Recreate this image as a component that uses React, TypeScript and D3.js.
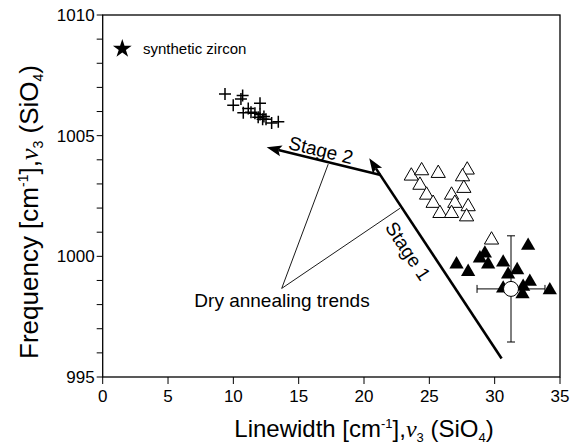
import * as d3 from "d3";

// synthetic zircon (crosses)
const crossPoints: [number, number][] = [
  [9.36, 1006.73], [9.99, 1006.26], [10.71, 1006.66], [10.58, 1006.52],
  [12.04, 1006.34], [11.14, 1006.13], [10.76, 1005.95], [11.35, 1005.97],
  [11.65, 1005.93], [12.04, 1005.88], [12.34, 1005.79], [12.5, 1005.68],
  [12.24, 1005.68], [12.93, 1005.53], [13.44, 1005.58], [11.9, 1005.76],
];

const openTriPoints: [number, number][] = [
  [23.62, 1003.33], [24.41, 1003.55], [25.68, 1003.44], [27.9, 1003.58],
  [27.54, 1003.3], [24.28, 1002.95], [27.64, 1002.82], [24.79, 1002.54],
  [26.7, 1002.54], [25.29, 1002.2], [26.95, 1002.2], [27.97, 1002.06],
  [25.81, 1001.78], [26.7, 1001.78], [27.85, 1001.64], [29.76, 1000.68],
];

const filledTriPoints: [number, number][] = [
  [30.65, 998.67], [32.56, 1000.44], [27.08, 999.67], [27.97, 999.36],
  [28.87, 999.92], [29.25, 1000.12], [29.5, 999.67], [30.65, 999.75],
  [31.03, 999.25], [31.72, 999.43], [32.69, 998.95], [32.18, 998.74],
  [32.13, 998.43], [34.22, 998.6],
];

const meanPoint: [number, number] = [31.25, 998.65];
const meanErrX = 2.6;
const meanErrY = 2.2;

const starPoint: [number, number] = [1.5, 1008.6];

const stage1: [number, number][] = [[30.53, 995.77], [20.4, 1004.06]];
const stage2: [number, number][] = [[21.27, 1003.37], [12.55, 1004.52]];
const dryApex: [number, number] = [13.7, 998.67];
const dryEnds: [number, number][] = [[17.26, 1003.82], [22.75, 1001.99]];

const xTicks = [0, 5, 10, 15, 20, 25, 30, 35];
const yTicks = [995, 1000, 1005, 1010];
const yMinor = d3.range(995, 1011, 1);

const W = 570;
const H = 446;

const x = d3.scaleLinear().domain([0, 35]).range([102.7, 560]);
const y = d3.scaleLinear().domain([995, 1010]).range([377, 15]);

const font = "Arial, 'Liberation Sans', Helvetica, sans-serif";

function arrow(seg: [number, number][]) {
  const [x0, y0] = [x(seg[0][0]), y(seg[0][1])];
  const [x1, y1] = [x(seg[1][0]), y(seg[1][1])];
  const len = Math.hypot(x1 - x0, y1 - y0);
  const ux = (x1 - x0) / len;
  const uy = (y1 - y0) / len;
  const L = 15;
  const hw = 5.5;
  const bx = x1 - ux * L;
  const by = y1 - uy * L;
  const head = `M${x1},${y1}L${bx - uy * hw},${by + ux * hw}L${bx + ux * 3},${by + uy * 3}L${bx + uy * hw},${by - ux * hw}Z`;
  return { line: `M${x0},${y0}L${bx + ux * 3},${by + uy * 3}`, head };
}

export default function App() {
  const tri = d3.symbol().type(d3.symbolTriangle).size(88)()!;
  const star = d3.symbol().type(d3.symbolStar).size(110)()!;
  const a1 = arrow(stage1);
  const a2 = arrow(stage2);
  const ang1 = (Math.atan2(y(stage1[0][1]) - y(stage1[1][1]), x(stage1[0][0]) - x(stage1[1][0])) * 180) / Math.PI;
  const ang2 = (Math.atan2(y(stage2[0][1]) - y(stage2[1][1]), x(stage2[0][0]) - x(stage2[1][0])) * 180) / Math.PI;

  return (
    <svg
      width={W}
      height={H}
      viewBox={`0 0 ${W} ${H}`}
      style={{ position: "absolute", left: 0, top: 0, background: "#fff" }}
      fontFamily={font}
    >
      {/* frame */}
      <rect x={x(0)} y={y(1010)} width={x(35) - x(0)} height={y(995) - y(1010)} fill="none" stroke="#000" strokeWidth={1.3} />

      {/* y ticks */}
      {yMinor.map((t) => (
        <line key={"ym" + t} x1={x(0) - 6} x2={x(0)} y1={y(t)} y2={y(t)} stroke="#000" strokeWidth={1} />
      ))}
      {yTicks.map((t) => (
        <text key={"yt" + t} x={x(0) - 8} y={y(t)} dy="0.36em" textAnchor="end" fontSize={17}>
          {t}
        </text>
      ))}
      {/* x ticks */}
      {xTicks.map((t) => (
        <g key={"xt" + t}>
          <line x1={x(t)} x2={x(t)} y1={y(995)} y2={y(995) + 7} stroke="#000" strokeWidth={1} />
          <text x={x(t)} y={402} textAnchor="middle" fontSize={17}>
            {t}
          </text>
        </g>
      ))}

      {/* axis titles */}
      <text x={364} y={437} textAnchor="middle" fontSize={24}>
        Linewidth [cm<tspan dy={-9} fontSize={13}>-1</tspan>
        <tspan dy={9}>],</tspan>
        <tspan fontFamily="'Liberation Serif', 'Times New Roman', serif" fontStyle="italic">ν</tspan>
        <tspan dy={5} fontSize={13}>3</tspan>
        <tspan dy={-5}> (SiO</tspan>
        <tspan dy={5} fontSize={13}>4</tspan>
        <tspan dy={-5}>)</tspan>
      </text>
      <text transform="translate(38,212) rotate(-90)" textAnchor="middle" fontSize={26}>
        Frequency [cm<tspan dy={-10} fontSize={14}>-1</tspan>
        <tspan dy={10}>],</tspan>
        <tspan fontFamily="'Liberation Serif', 'Times New Roman', serif" fontStyle="italic">ν</tspan>
        <tspan dy={5} fontSize={14}>3</tspan>
        <tspan dy={-5}> (SiO</tspan>
        <tspan dy={5} fontSize={14}>4</tspan>
        <tspan dy={-5}>)</tspan>
      </text>

      {/* star + legend label */}
      <path d={star} transform={`translate(${x(starPoint[0])},${y(starPoint[1])})`} fill="#000" />
      <text x={143} y={54} fontSize={15}>synthetic zircon</text>

      {/* crosses */}
      {crossPoints.map((p, i) => (
        <path
          key={"c" + i}
          d={`M${x(p[0]) - 6},${y(p[1])}h12M${x(p[0])},${y(p[1]) - 6}v12`}
          stroke="#000"
          strokeWidth={1.5}
        />
      ))}

      {/* open triangles */}
      {openTriPoints.map((p, i) => (
        <path key={"o" + i} d={tri} transform={`translate(${x(p[0])},${y(p[1])})`} fill="#fff" stroke="#000" strokeWidth={1} />
      ))}

      {/* filled triangles */}
      {filledTriPoints.map((p, i) => (
        <path key={"f" + i} d={tri} transform={`translate(${x(p[0])},${y(p[1])})`} fill="#000" />
      ))}

      {/* mean with error bars */}
      <g stroke="#000" strokeWidth={1}>
        <line x1={x(meanPoint[0] - meanErrX)} x2={x(meanPoint[0] + meanErrX)} y1={y(meanPoint[1])} y2={y(meanPoint[1])} />
        <line x1={x(meanPoint[0] - meanErrX)} x2={x(meanPoint[0] - meanErrX)} y1={y(meanPoint[1]) - 4} y2={y(meanPoint[1]) + 4} />
        <line x1={x(meanPoint[0] + meanErrX)} x2={x(meanPoint[0] + meanErrX)} y1={y(meanPoint[1]) - 4} y2={y(meanPoint[1]) + 4} />
        <line x1={x(meanPoint[0])} x2={x(meanPoint[0])} y1={y(meanPoint[1] - meanErrY)} y2={y(meanPoint[1] + meanErrY)} />
        <line x1={x(meanPoint[0]) - 4} x2={x(meanPoint[0]) + 4} y1={y(meanPoint[1] - meanErrY)} y2={y(meanPoint[1] - meanErrY)} />
        <line x1={x(meanPoint[0]) - 4} x2={x(meanPoint[0]) + 4} y1={y(meanPoint[1] + meanErrY)} y2={y(meanPoint[1] + meanErrY)} />
        <circle cx={x(meanPoint[0])} cy={y(meanPoint[1])} r={7.5} fill="#fff" />
      </g>

      {/* dry annealing trend lines */}
      {dryEnds.map((e, i) => (
        <line key={"d" + i} x1={x(dryApex[0])} y1={y(dryApex[1])} x2={x(e[0])} y2={y(e[1])} stroke="#000" strokeWidth={0.9} />
      ))}
      <text x={282} y={307} textAnchor="middle" fontSize={19}>Dry annealing trends</text>

      {/* stage arrows */}
      <path d={a1.line} stroke="#000" strokeWidth={2.6} fill="none" />
      <path d={a1.head} fill="#000" />
      <path d={a2.line} stroke="#000" strokeWidth={2.6} fill="none" />
      <path d={a2.head} fill="#000" />

      <text transform={`translate(408,251) rotate(${ang1})`} textAnchor="middle" dy="0.35em" fontSize={19}>Stage 1</text>
      <text transform={`translate(321,150) rotate(${ang2})`} textAnchor="middle" dy="0.35em" fontSize={19}>Stage 2</text>
    </svg>
  );
}
